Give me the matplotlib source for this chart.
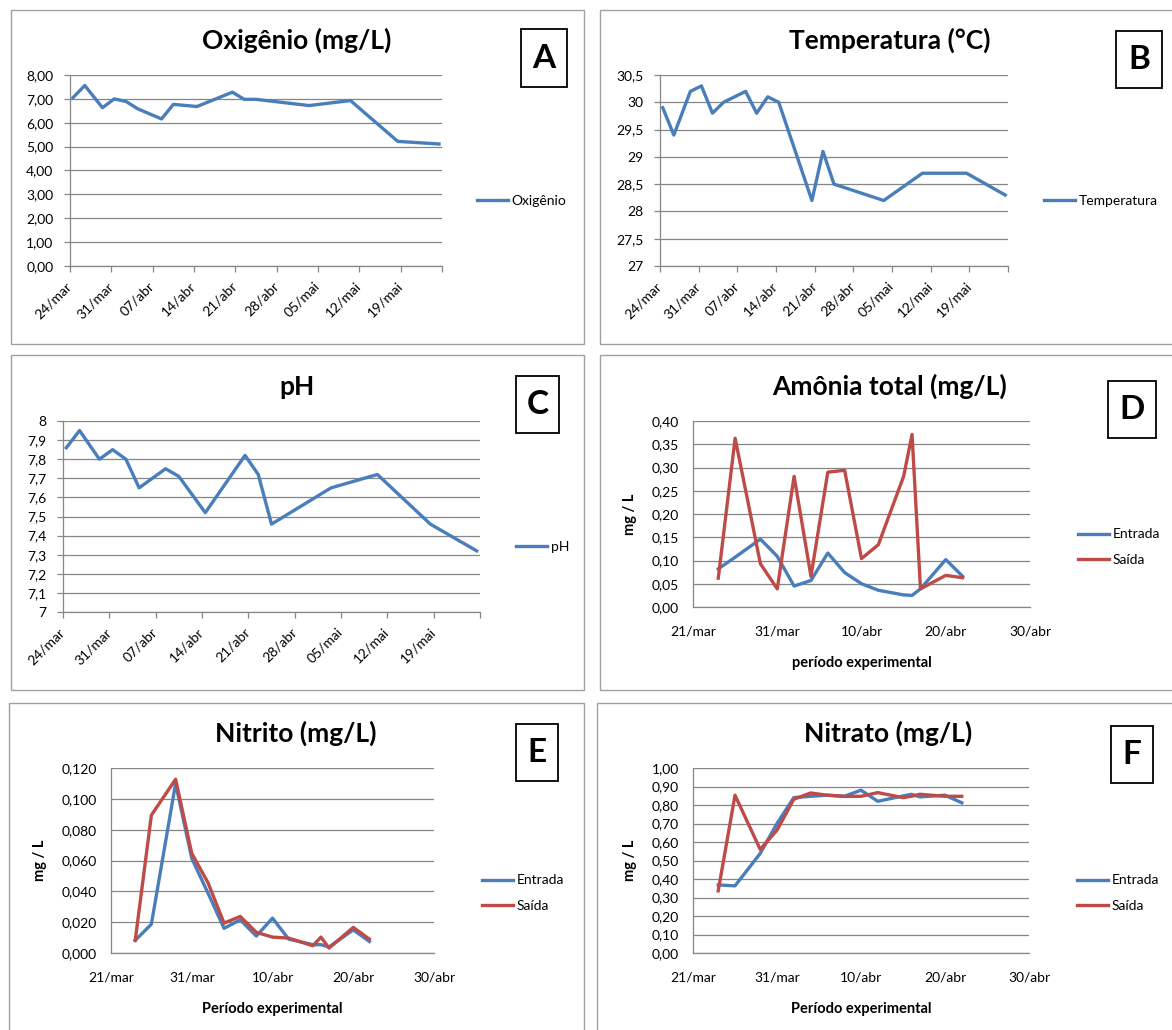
import matplotlib
matplotlib.use("Agg")
import matplotlib.pyplot as plt
from matplotlib.patches import Rectangle
from matplotlib.ticker import FuncFormatter, MultipleLocator
import pandas as pd

# ---- dados ----
oxigenio_datas = ["2013-03-24", "2013-03-26", "2013-03-29", "2013-03-31", "2013-04-02", "2013-04-04",
                  "2013-04-08", "2013-04-10", "2013-04-14", "2013-04-20", "2013-04-22", "2013-04-24",
                  "2013-05-03", "2013-05-10", "2013-05-18", "2013-05-25"]
oxigenio = [7.05, 7.56, 6.63, 7.00, 6.89, 6.58, 6.16, 6.77, 6.68, 7.28, 6.98, 6.98, 6.72, 6.93, 5.22, 5.11]

temperatura_datas = ["2013-03-24", "2013-03-26", "2013-03-29", "2013-03-31", "2013-04-02", "2013-04-04",
                     "2013-04-06", "2013-04-08", "2013-04-10", "2013-04-12", "2013-04-14", "2013-04-20",
                     "2013-04-22", "2013-04-24", "2013-05-03", "2013-05-10", "2013-05-18", "2013-05-25"]
temperatura = [29.9, 29.4, 30.2, 30.3, 29.8, 30.0, 30.1, 30.2, 29.8, 30.1, 30.0, 28.2,
               29.1, 28.5, 28.2, 28.7, 28.7, 28.3]

ph_datas = ["2013-03-24", "2013-03-26", "2013-03-29", "2013-03-31", "2013-04-02", "2013-04-04",
            "2013-04-08", "2013-04-10", "2013-04-14", "2013-04-20", "2013-04-22", "2013-04-24",
            "2013-05-03", "2013-05-10", "2013-05-18", "2013-05-25"]
ph = [7.86, 7.95, 7.80, 7.85, 7.80, 7.65, 7.75, 7.71, 7.52, 7.82, 7.72, 7.46, 7.65, 7.72, 7.46, 7.32]

coleta_datas = ["2013-03-24", "2013-03-26", "2013-03-29", "2013-03-31", "2013-04-02", "2013-04-04",
                "2013-04-06", "2013-04-08", "2013-04-10", "2013-04-12", "2013-04-15", "2013-04-16",
                "2013-04-17", "2013-04-20", "2013-04-22"]
amonia_entrada = [0.082, 0.107, 0.146, 0.109, 0.045, 0.057, 0.116, 0.074, 0.050, 0.036, 0.026, 0.025,
                  0.039, 0.102, 0.066]
amonia_saida = [0.062, 0.363, 0.093, 0.039, 0.281, 0.066, 0.290, 0.294, 0.104, 0.134, 0.281, 0.371,
                0.039, 0.068, 0.063]
nitrito_entrada = [0.0082, 0.0187, 0.110, 0.0614, 0.039, 0.016, 0.0215, 0.011, 0.0226, 0.009, 0.0054,
                   0.0054, 0.0039, 0.015, 0.0075]
nitrito_saida = [0.0082, 0.0894, 0.1127, 0.0646, 0.0457, 0.0194, 0.0237, 0.0134, 0.0103, 0.0097, 0.0047,
                 0.0103, 0.0032, 0.0166, 0.009]
nitrato_entrada = [0.368, 0.363, 0.538, 0.700, 0.840, 0.847, 0.853, 0.847, 0.880, 0.820, 0.849, 0.858,
                   0.844, 0.853, 0.812]
nitrato_saida = [0.336, 0.853, 0.560, 0.664, 0.831, 0.865, 0.853, 0.847, 0.847, 0.867, 0.840, 0.847,
                 0.858, 0.847, 0.847]

meses = {3: "mar", 4: "abr", 5: "mai"}

plt.rcParams["font.family"] = ["Lato", "DejaVu Sans"]
W, H = 1172, 1030
AZUL, VERMELHO, CINZA = "#4a7ebb", "#be4b48", "#868686"
TICK = 10
LW = 2.4

fig = plt.figure(figsize=(W / 100, H / 100), dpi=100)


def caixa(x0, y0, x1, y1, cor, lw):
    fig.add_artist(Rectangle((x0 / W, 1 - y1 / H), (x1 - x0) / W, (y1 - y0) / H,
                             transform=fig.transFigure, fill=False, ec=cor, lw=lw))


def texto(x, y, s, **kw):
    fig.text(x / W, 1 - y / H, s, ha="center", va="center", **kw)


def virgula(casas):
    if casas is None:
        return FuncFormatter(lambda v, p: f"{round(v, 2):g}".replace(".", ","))
    return FuncFormatter(lambda v, p: f"{v:.{casas}f}".replace(".", ","))


def painel(box, area, titulo, tit_xy, letra, lbox):
    caixa(*box, "#a0a0a0", 1.0)
    caixa(*lbox, "black", 1.3)
    texto(*tit_xy, titulo, fontsize=19, fontweight="bold")
    texto((lbox[0] + lbox[2]) / 2, (lbox[1] + lbox[3]) / 2, letra, fontsize=24, fontweight="bold")
    x0, y0, x1, y1 = area
    ax = fig.add_axes([x0 / W, 1 - y1 / H, (x1 - x0) / W, (y1 - y0) / H])
    for s in ("top", "right"):
        ax.spines[s].set_visible(False)
    for s in ("left", "bottom"):
        ax.spines[s].set_color(CINZA)
        ax.spines[s].set_linewidth(0.9)
    ax.yaxis.grid(True, color=CINZA, lw=0.9)
    ax.set_axisbelow(True)
    ax.tick_params(labelsize=TICK, color=CINZA, width=0.9)
    return ax


def legenda(ax, x, y):
    ax.legend(loc="center left", bbox_to_anchor=(x / W, 1 - y / H), bbox_transform=fig.transFigure,
              frameon=False, borderpad=0, borderaxespad=0, handlelength=2.2, handletextpad=0.3,
              labelspacing=0.95, fontsize=10)


def semanal(ax, datas, valores, rotulo, ymin, ymax, passo, casas):
    x = pd.to_datetime(datas) + pd.Timedelta(hours=12)
    ax.plot(x, valores, color=AZUL, lw=LW, label=rotulo)
    inicio, fim = pd.Timestamp("2013-03-24"), pd.Timestamp("2013-05-26")
    ticks = pd.date_range(inicio, fim, freq="7D")
    ax.set_xlim(inicio, fim)
    ax.set_xticks(ticks)
    ax.set_xticklabels([f"{d.day:02d}/{meses[d.month]}" for d in ticks[:-1]] + [""],
                       rotation=45, ha="right", va="center", rotation_mode="anchor")
    ax.set_ylim(ymin, ymax)
    ax.yaxis.set_major_locator(MultipleLocator(passo))
    ax.yaxis.set_major_formatter(virgula(casas))
    ax.tick_params(axis="both", direction="out", length=4)
    ax.tick_params(axis="x", pad=9)
    ax.tick_params(axis="y", pad=8)


def entrada_saida(ax, entrada, saida, ymin, ymax, passo, casas, xlabel, ylab_x, xlab_y, area):
    x = pd.to_datetime(coleta_datas)
    ax.plot(x, entrada, color=AZUL, lw=LW, label="Entrada")
    ax.plot(x, saida, color=VERMELHO, lw=LW, label="Saída")
    inicio, fim = pd.Timestamp("2013-03-21"), pd.Timestamp("2013-04-30")
    ticks = pd.date_range(inicio, fim, freq="10D")
    ax.set_xlim(inicio, fim)
    ax.set_xticks(ticks)
    ax.set_xticklabels([f"{d.day:02d}/{meses[d.month]}" for d in ticks])
    ax.set_ylim(ymin, ymax)
    ax.yaxis.set_major_locator(MultipleLocator(passo))
    ax.yaxis.set_major_formatter(virgula(casas))
    ax.tick_params(axis="both", length=0)
    ax.tick_params(axis="x", pad=13)
    ax.tick_params(axis="y", pad=10)
    x0, y0, x1, y1 = area
    ax.set_xlabel(xlabel, fontsize=10.5, fontweight="bold", va="center")
    ax.xaxis.set_label_coords(0.5, (y1 - xlab_y) / (y1 - y0))
    ax.set_ylabel("mg / L", fontsize=10.5, fontweight="bold", va="center")
    ax.yaxis.set_label_coords((ylab_x - x0) / (x1 - x0), 0.5)


# A - Oxigênio
ax = painel((11, 10, 584, 344), (70, 75, 442, 266), "Oxigênio (mg/L)", (297, 40), "A", (521, 29, 567, 87))
semanal(ax, oxigenio_datas, oxigenio, "Oxigênio", 0, 8, 1, 2)
legenda(ax, 477, 201)

# B - Temperatura
ax = painel((600, 10, 1180, 344), (660, 75, 1008, 266), "Temperatura (°C)", (890, 40), "B",
            (1116, 31, 1162, 88))
semanal(ax, temperatura_datas, temperatura, "Temperatura", 27, 30.5, 0.5, None)
legenda(ax, 1044, 201)

# C - pH
ax = painel((11, 355, 584, 690), (63, 421, 480, 612), "pH", (297, 387), "C", (516, 376, 559, 433))
semanal(ax, ph_datas, ph, "pH", 7, 8, 0.1, None)
legenda(ax, 516, 547)

# D - Amônia
area = (693, 421, 1030, 607)
ax = painel((600, 355, 1180, 690), area, "Amônia total (mg/L)", (890, 386), "D", (1108, 381, 1156, 438))
entrada_saida(ax, amonia_entrada, amonia_saida, 0, 0.40, 0.05, 2, "período experimental", 630, 663, area)
legenda(ax, 1078, 547)

# E - Nitrito
area = (111, 768, 434, 953)
ax = painel((9, 703, 584, 1040), area, "Nitrito (mg/L)", (296, 733), "E", (516, 724, 558, 781))
entrada_saida(ax, nitrito_entrada, nitrito_saida, 0, 0.12, 0.02, 3, "Período experimental", 40, 1009, area)
legenda(ax, 482, 893)

# F - Nitrato
area = (693, 768, 1029, 953)
ax = painel((597, 703, 1180, 1040), area, "Nitrato (mg/L)", (888, 733), "F", (1111, 726, 1153, 783))
entrada_saida(ax, nitrato_entrada, nitrato_saida, 0, 1.0, 0.1, 2, "Período experimental", 630, 1009, area)
legenda(ax, 1077, 893)

fig.savefig("out.png", dpi=100)
